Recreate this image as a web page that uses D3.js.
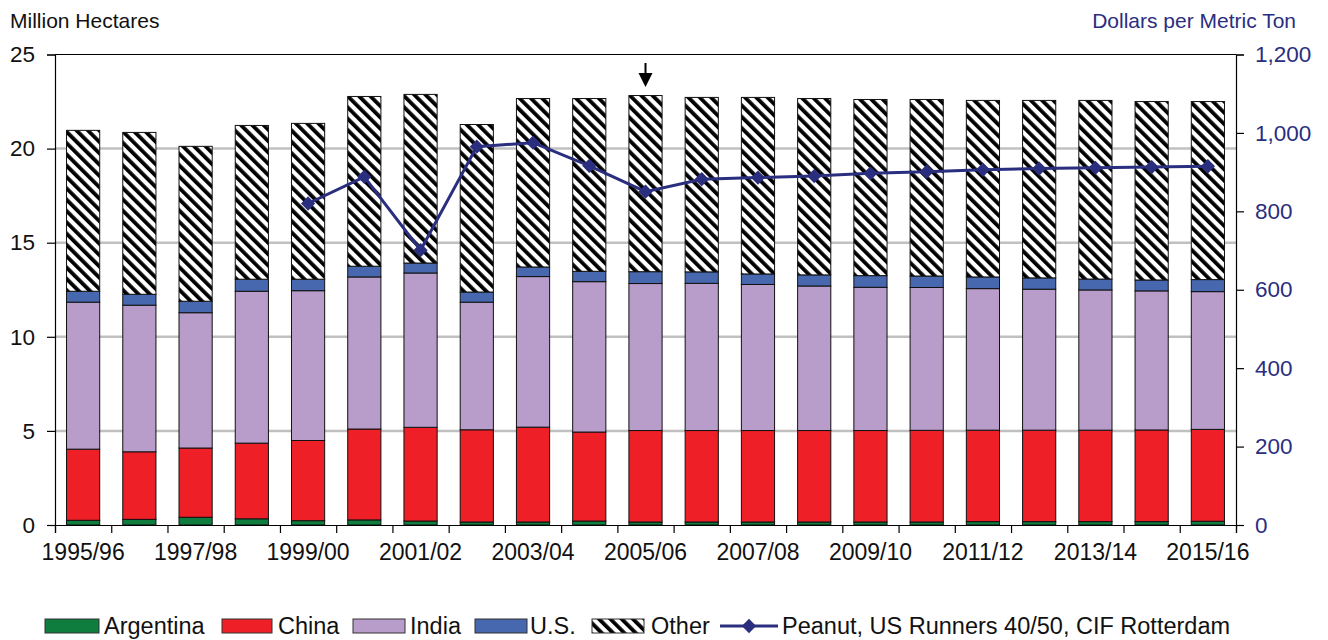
<!DOCTYPE html>
<html>
<head>
<meta charset="utf-8">
<script src="https://cdn.jsdelivr.net/npm/d3@7"></script>
<style>
    body { margin: 0; background: #fff; }
    text { font-family: "Liberation Sans", Arial, sans-serif; }
</style>
</head>
<body>
<div id="chart"></div>
<script>
// Marketing years
const years = ['1995/96', '1996/97', '1997/98', '1998/99', '1999/00', '2000/01', '2001/02', '2002/03',
    '2003/04', '2004/05', '2005/06', '2006/07', '2007/08', '2008/09', '2009/10', '2010/11',
    '2011/12', '2012/13', '2013/14', '2014/15', '2015/16']

// Harvested area, million hectares
const argentina = [0.25, 0.30, 0.41, 0.33, 0.23, 0.27, 0.21, 0.16, 0.16, 0.21, 0.16, 0.16, 0.16, 0.16, 0.16, 0.16, 0.18, 0.18, 0.18, 0.18, 0.20]
const china = [3.78, 3.59, 3.68, 4.02, 4.26, 4.83, 4.98, 4.90, 5.04, 4.73, 4.86, 4.86, 4.86, 4.86, 4.86, 4.87, 4.86, 4.86, 4.86, 4.87, 4.88]
const india = [7.81, 7.79, 7.19, 8.07, 7.96, 8.08, 8.20, 6.78, 8.00, 7.99, 7.81, 7.82, 7.76, 7.68, 7.61, 7.59, 7.52, 7.49, 7.45, 7.39, 7.32]
const us = [0.58, 0.58, 0.61, 0.64, 0.61, 0.57, 0.53, 0.54, 0.51, 0.55, 0.63, 0.61, 0.56, 0.59, 0.62, 0.61, 0.62, 0.60, 0.58, 0.58, 0.64]
const other = [8.55, 8.60, 8.23, 8.17, 8.28, 9.02, 8.96, 8.90, 8.95, 9.18, 9.36, 9.27, 9.38, 9.37, 9.36, 9.38, 9.38, 9.43, 9.49, 9.48, 9.46]

// Peanut, US Runners 40/50, CIF Rotterdam, dollars per metric ton
const price = [null, null, null, null, 820, 888, 701, 965, 975, 916, 850, 882, 886, 890, 897, 901, 906, 909, 911, 913, 915]

const leftTicks = [0, 5, 10, 15, 20, 25]
const rightTicks = [0, 200, 400, 600, 800, 1000, 1200]
const markedYear = '2005/06'

const seriesNames = ['Argentina', 'China', 'India', 'U.S.', 'Other']
const lineName = 'Peanut, US Runners 40/50, CIF Rotterdam'

const colors = {
    'Argentina': '#0E7D3E',
    'China': '#EE1F26',
    'India': '#B89CCA',
    'U.S.': '#4767AE',
    'Other': 'url(#hatch)'
}
const navy = '#2A2E7F'

const W = 1328, H = 640
const plot = {left: 55, right: 1236, top: 54.5, bottom: 525}

const rows = years.map((y, i) => ({
    year: y, 'Argentina': argentina[i], 'China': china[i], 'India': india[i], 'U.S.': us[i], 'Other': other[i]
}))
const stacked = d3.stack().keys(seriesNames)(rows)

const svg = d3.select('#chart').append('svg')
    .attr('width', W)
    .attr('height', H)

// Hatch pattern for "Other"
const defs = svg.append('defs')
const pat = defs.append('pattern')
    .attr('id', 'hatch')
    .attr('patternUnits', 'userSpaceOnUse')
    .attr('width', 8)
    .attr('height', 8)
    .attr('patternTransform', 'rotate(-45)')
pat.append('rect').attr('width', 8).attr('height', 8).attr('fill', '#fff')
pat.append('rect').attr('width', 3.8).attr('height', 8).attr('fill', '#000')

const x = d3.scaleBand()
    .domain(years)
    .range([plot.left, plot.right])
    .paddingInner(0.41)
    .paddingOuter(0.205)

const xEdge = d3.scaleLinear().domain([0, years.length]).range([plot.left, plot.right])

const y = d3.scaleLinear().domain([0, 25]).range([plot.bottom, plot.top])
const y2 = d3.scaleLinear().domain([0, 1200]).range([plot.bottom, plot.top])

// Gridlines
svg.append('g')
    .selectAll('line')
    .data([5, 10, 15, 20])
    .join('line')
    .attr('x1', plot.left)
    .attr('x2', plot.right)
    .attr('y1', d => y(d))
    .attr('y2', d => y(d))
    .attr('stroke', '#C0C0C0')
    .attr('stroke-width', 2.5)

// Bars
svg.append('g')
    .selectAll('g')
    .data(stacked)
    .join('g')
    .attr('fill', d => colors[d.key])
    .selectAll('rect')
    .data(d => d)
    .join('rect')
    .attr('x', d => x(d.data.year))
    .attr('width', x.bandwidth())
    .attr('y', d => y(d[1]))
    .attr('height', d => y(d[0]) - y(d[1]))
    .attr('stroke', '#111')
    .attr('stroke-width', 1)

// Frame top line
svg.append('line')
    .attr('x1', plot.left).attr('x2', plot.right)
    .attr('y1', plot.top).attr('y2', plot.top)
    .attr('stroke', '#000').attr('stroke-width', 1.2)

// Left axis
const gLeft = svg.append('g')
    .attr('transform', `translate(${plot.left},0)`)
    .call(d3.axisLeft(y).tickValues(leftTicks).tickSize(8).tickPadding(12))
gLeft.selectAll('text').attr('font-size', 22.5).attr('fill', '#111')

// Right axis
const gRight = svg.append('g')
    .attr('transform', `translate(${plot.right},0)`)
    .call(d3.axisRight(y2).tickValues(rightTicks).tickFormat(d3.format(',')).tickSize(8).tickPadding(11))
gRight.selectAll('text').attr('font-size', 22.5).attr('fill', navy)

svg.selectAll('.domain').attr('stroke', '#000').attr('stroke-width', 1.2)
svg.selectAll('.tick line').attr('stroke', '#000').attr('stroke-width', 1.2)

// Bottom axis: tick marks at category edges
svg.append('g')
    .attr('transform', `translate(0,${plot.bottom})`)
    .call(d3.axisBottom(xEdge).tickValues(d3.range(years.length + 1)).tickSize(8).tickFormat(''))
    .call(g => g.selectAll('line, path').attr('stroke', '#000').attr('stroke-width', 1.2))

// Bottom labels every other year
svg.append('g')
    .attr('transform', `translate(0,${plot.bottom})`)
    .call(d3.axisBottom(x).tickValues(years.filter((d, i) => i % 2 === 0)).tickSize(0))
    .call(g => g.select('.domain').remove())
    .call(g => g.selectAll('text')
        .attr('y', 35).attr('dy', 0)
        .attr('font-size', 23)
        .attr('fill', '#111'))

// Price line
const priceData = years.map((yr, i) => ({year: yr, v: price[i]})).filter(d => d.v !== null)
const line = d3.line()
    .x(d => x(d.year) + x.bandwidth() / 2)
    .y(d => y2(d.v))

svg.append('path')
    .datum(priceData)
    .attr('d', line)
    .attr('fill', 'none')
    .attr('stroke', navy)
    .attr('stroke-width', 3)

const diamond = d3.symbol().type(d3.symbolDiamond2).size(130)
svg.append('g')
    .selectAll('path')
    .data(priceData)
    .join('path')
    .attr('d', diamond)
    .attr('transform', d => `translate(${x(d.year) + x.bandwidth() / 2},${y2(d.v)})`)
    .attr('fill', navy)

// Arrow over marked year
const ax = x(markedYear) + x.bandwidth() / 2
svg.append('line')
    .attr('x1', ax).attr('x2', ax)
    .attr('y1', 63).attr('y2', 76)
    .attr('stroke', '#000').attr('stroke-width', 2)
svg.append('path')
    .attr('d', `M${ax - 7},73 L${ax + 7},73 L${ax},87 Z`)
    .attr('fill', '#000')

// Axis titles
svg.append('text')
    .attr('x', 10).attr('y', 28)
    .attr('font-size', 21)
    .attr('fill', '#111')
    .text('Million Hectares')

svg.append('text')
    .attr('x', 1296).attr('y', 28)
    .attr('text-anchor', 'end')
    .attr('font-size', 21)
    .attr('fill', navy)
    .text('Dollars per Metric Ton')

// Legend
const legendY = 626
const legendItems = [
    {name: 'Argentina', x: 45, w: 54, tx: 104},
    {name: 'China', x: 222, w: 50, tx: 278},
    {name: 'India', x: 353, w: 52, tx: 410},
    {name: 'U.S.', x: 475, w: 52, tx: 530},
    {name: 'Other', x: 592, w: 52, tx: 651}
]
const leg = svg.append('g')
leg.selectAll('rect')
    .data(legendItems)
    .join('rect')
    .attr('x', d => d.x)
    .attr('y', legendY - 7)
    .attr('width', d => d.w)
    .attr('height', 14)
    .attr('fill', d => colors[d.name])
    .attr('stroke', '#333')
    .attr('stroke-width', 1)
leg.selectAll('text.item')
    .data(legendItems)
    .join('text')
    .attr('class', 'item')
    .attr('x', d => d.tx)
    .attr('y', legendY + 8)
    .attr('font-size', 23.5)
    .attr('fill', '#111')
    .text(d => d.name)

leg.append('line')
    .attr('x1', 720).attr('x2', 778)
    .attr('y1', legendY).attr('y2', legendY)
    .attr('stroke', navy).attr('stroke-width', 3)
leg.append('path')
    .attr('d', diamond)
    .attr('transform', `translate(749,${legendY})`)
    .attr('fill', navy)
leg.append('text')
    .attr('x', 782)
    .attr('y', legendY + 8)
    .attr('font-size', 23.5)
    .attr('fill', '#111')
    .text(lineName)
</script>
</body>
</html>
